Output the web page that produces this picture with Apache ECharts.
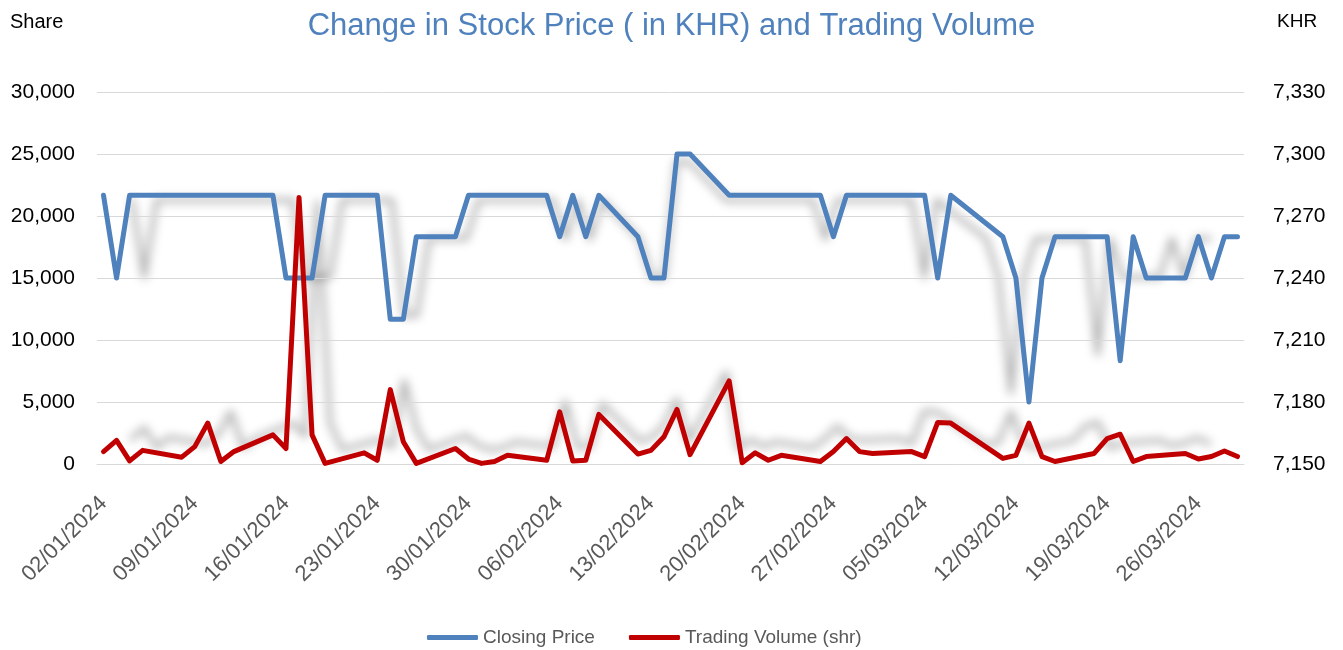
<!DOCTYPE html>
<html>
<head>
<meta charset="utf-8">
<title>Change in Stock Price and Trading Volume</title>
<script src="https://cdn.jsdelivr.net/npm/echarts@6.0.0/dist/echarts.min.js"></script>
<style>
  html, body { margin: 0; padding: 0; background: #fff; }
  .layer { position: absolute; left: 0; top: 0; width: 1343px; height: 650px; }
  /* Excel-style soft shadow behind the lines */
  #shadow { filter: blur(5px); }
</style>
</head>
<body>
<div id="shadow" class="layer"></div>
<div id="chart" class="layer"></div>
<script>
// trading days (dd/mm/yyyy)
const tradeDates = [
  '02/01/2024', '03/01/2024', '04/01/2024', '05/01/2024',
  '08/01/2024', '09/01/2024', '10/01/2024', '11/01/2024', '12/01/2024',
  '15/01/2024', '16/01/2024', '17/01/2024', '18/01/2024', '19/01/2024',
  '22/01/2024', '23/01/2024', '24/01/2024', '25/01/2024', '26/01/2024',
  '29/01/2024', '30/01/2024', '31/01/2024', '01/02/2024', '02/02/2024',
  '05/02/2024', '06/02/2024', '07/02/2024', '08/02/2024', '09/02/2024',
  '12/02/2024', '13/02/2024', '14/02/2024', '15/02/2024', '16/02/2024',
  '19/02/2024', '20/02/2024', '21/02/2024', '22/02/2024', '23/02/2024',
  '26/02/2024', '27/02/2024', '28/02/2024', '29/02/2024', '01/03/2024',
  '04/03/2024', '05/03/2024', '06/03/2024', '07/03/2024',
  '11/03/2024', '12/03/2024', '13/03/2024', '14/03/2024', '15/03/2024',
  '18/03/2024', '19/03/2024', '20/03/2024', '21/03/2024', '22/03/2024',
  '25/03/2024', '26/03/2024', '27/03/2024', '28/03/2024', '29/03/2024'
];

// closing price, KHR
const closingPrice = [
  7280, 7240, 7280, 7280,
  7280, 7280, 7280, 7280, 7280,
  7280, 7240, 7240, 7240, 7280,
  7280, 7280, 7220, 7220, 7260,
  7260, 7280, 7280, 7280, 7280,
  7280, 7260, 7280, 7260, 7280,
  7260, 7240, 7240, 7300, 7300,
  7280, 7280, 7280, 7280, 7280,
  7280, 7260, 7280, 7280, 7280,
  7280, 7280, 7240, 7280,
  7260, 7240, 7180, 7240, 7260,
  7260, 7260, 7200, 7260, 7240,
  7240, 7260, 7240, 7260, 7260
];

// trading volume, shares
const tradingVolume = [
  1000, 1900, 250, 1100,
  550, 1400, 3300, 200, 1000,
  2350, 1250, 21500, 2350, 50,
  900, 300, 6000, 1800, 50,
  1250, 400, 50, 200, 700,
  300, 4200, 250, 300, 4000,
  800, 1100, 2200, 4400, 750,
  6700, 100, 900, 300, 700,
  200, 1000, 2050, 1000, 850,
  1000, 600, 3350, 3300,
  450, 700, 3300, 600, 200,
  850, 2050, 2400, 200, 600,
  850, 400, 600, 1050, 600
];

const volumeTicks = { min: 0, max: 30000, interval: 5000 };
const priceTicks = { min: 7150, max: 7330, interval: 30 };

// every calendar day between first and last trading day -> date axis
function parseDate(s) {
  const [d, m, y] = s.split('/').map(Number);
  return new Date(y, m - 1, d);
}
function fmtDate(dt) {
  const dd = String(dt.getDate()).padStart(2, '0');
  const mm = String(dt.getMonth() + 1).padStart(2, '0');
  return dd + '/' + mm + '/' + dt.getFullYear();
}
const days = [];
for (let dt = parseDate(tradeDates[0]); dt <= parseDate(tradeDates[tradeDates.length - 1]); dt.setDate(dt.getDate() + 1)) {
  days.push(fmtDate(new Date(dt)));
}
function onDays(values) {
  return days.map(d => {
    const i = tradeDates.indexOf(d);
    return i < 0 ? null : values[i];
  });
}
const priceData = onDays(closingPrice);
const volumeData = onDays(tradingVolume);

// plot area (px); the shadow is the same plot shrunk around a centre point
const plot = { left: 97, top: 92, width: 1147, height: 372 };
const shadowScale = { sx: 0.95, cx: 670, sy: 0.93, cy: 266 };
const sh = {
  left: shadowScale.cx + shadowScale.sx * (plot.left - shadowScale.cx),
  top: shadowScale.cy + shadowScale.sy * (plot.top - shadowScale.cy),
  width: plot.width * shadowScale.sx,
  height: plot.height * shadowScale.sy
};

const BLUE = '#4F81BD';
const RED = '#C00000';
const FONT = "'Liberation Sans', Arial, sans-serif";

const numFmt = v => v.toLocaleString('en-US');

// --- shadow layer (blurred by css) ---
const shadowChart = echarts.init(document.getElementById('shadow'), null, { renderer: 'canvas' });
const shadowLine = { color: 'rgba(0,0,0,0.3)', width: 5, join: 'round', cap: 'round' };
shadowChart.setOption({
  animation: false,
  grid: { left: sh.left, top: sh.top, width: sh.width, height: sh.height },
  xAxis: { type: 'category', data: days, boundaryGap: true, show: false },
  yAxis: [
    { type: 'value', min: volumeTicks.min, max: volumeTicks.max, show: false, splitLine: { show: false } },
    { type: 'value', min: priceTicks.min, max: priceTicks.max, show: false, splitLine: { show: false } }
  ],
  series: [
    { type: 'line', yAxisIndex: 1, data: priceData, connectNulls: true, showSymbol: false, silent: true, lineStyle: shadowLine },
    { type: 'line', yAxisIndex: 0, data: volumeData, connectNulls: true, showSymbol: false, silent: true, lineStyle: shadowLine }
  ]
});

// --- main chart ---
const chart = echarts.init(document.getElementById('chart'), null, { renderer: 'canvas' });

chart.setOption({
  animation: false,
  backgroundColor: 'transparent',
  title: [
    {
      text: 'Change in Stock Price ( in KHR) and Trading Volume',
      left: 'center',
      top: 6,
      textStyle: { color: BLUE, fontSize: 31, fontWeight: 'normal', fontFamily: FONT }
    },
    {
      text: 'Share',
      left: 5,
      top: 7,
      textStyle: { color: '#000', fontSize: 20, fontWeight: 'normal', fontFamily: FONT }
    },
    {
      text: 'KHR',
      left: 1272,
      top: 7,
      textStyle: { color: '#000', fontSize: 19, fontWeight: 'normal', fontFamily: FONT }
    }
  ],
  legend: {
    data: ['Closing Price', 'Trading Volume (shr)'],
    top: 623,
    left: 422,
    icon: 'roundRect',
    itemWidth: 51,
    itemHeight: 5,
    itemGap: 34,
    textStyle: { color: '#595959', fontSize: 19, fontFamily: FONT }
  },
  grid: { left: plot.left, top: plot.top, width: plot.width, height: plot.height },
  xAxis: {
    type: 'category',
    data: days,
    boundaryGap: true,
    axisLine: { lineStyle: { color: '#d9d9d9', width: 1 } },
    axisTick: { show: false },
    splitLine: { show: false },
    axisLabel: {
      interval: 6,
      rotate: 45,
      margin: 36,
      color: '#595959',
      fontSize: 22,
      fontFamily: FONT
    }
  },
  yAxis: [
    {
      type: 'value',
      position: 'left',
      min: volumeTicks.min,
      max: volumeTicks.max,
      interval: volumeTicks.interval,
      axisLine: { show: false },
      axisTick: { show: false },
      splitLine: { lineStyle: { color: '#d9d9d9', width: 1 } },
      axisLabel: { margin: 22, color: '#000', fontSize: 21, fontFamily: FONT, formatter: numFmt }
    },
    {
      type: 'value',
      position: 'right',
      min: priceTicks.min,
      max: priceTicks.max,
      interval: priceTicks.interval,
      axisLine: { show: false },
      axisTick: { show: false },
      splitLine: { show: false },
      axisLabel: { margin: 29, color: '#000', fontSize: 21, fontFamily: FONT, formatter: numFmt }
    }
  ],
  series: [
    {
      name: 'Closing Price',
      type: 'line',
      yAxisIndex: 1,
      data: priceData,
      connectNulls: true,
      showSymbol: false,
      itemStyle: { color: BLUE },
      lineStyle: { color: BLUE, width: 5, join: 'round', cap: 'round' }
    },
    {
      name: 'Trading Volume (shr)',
      type: 'line',
      yAxisIndex: 0,
      data: volumeData,
      connectNulls: true,
      showSymbol: false,
      itemStyle: { color: RED },
      lineStyle: { color: RED, width: 5, join: 'round', cap: 'round' }
    }
  ]
});

window.addEventListener('resize', () => { chart.resize(); shadowChart.resize(); });
</script>
</body>
</html>
